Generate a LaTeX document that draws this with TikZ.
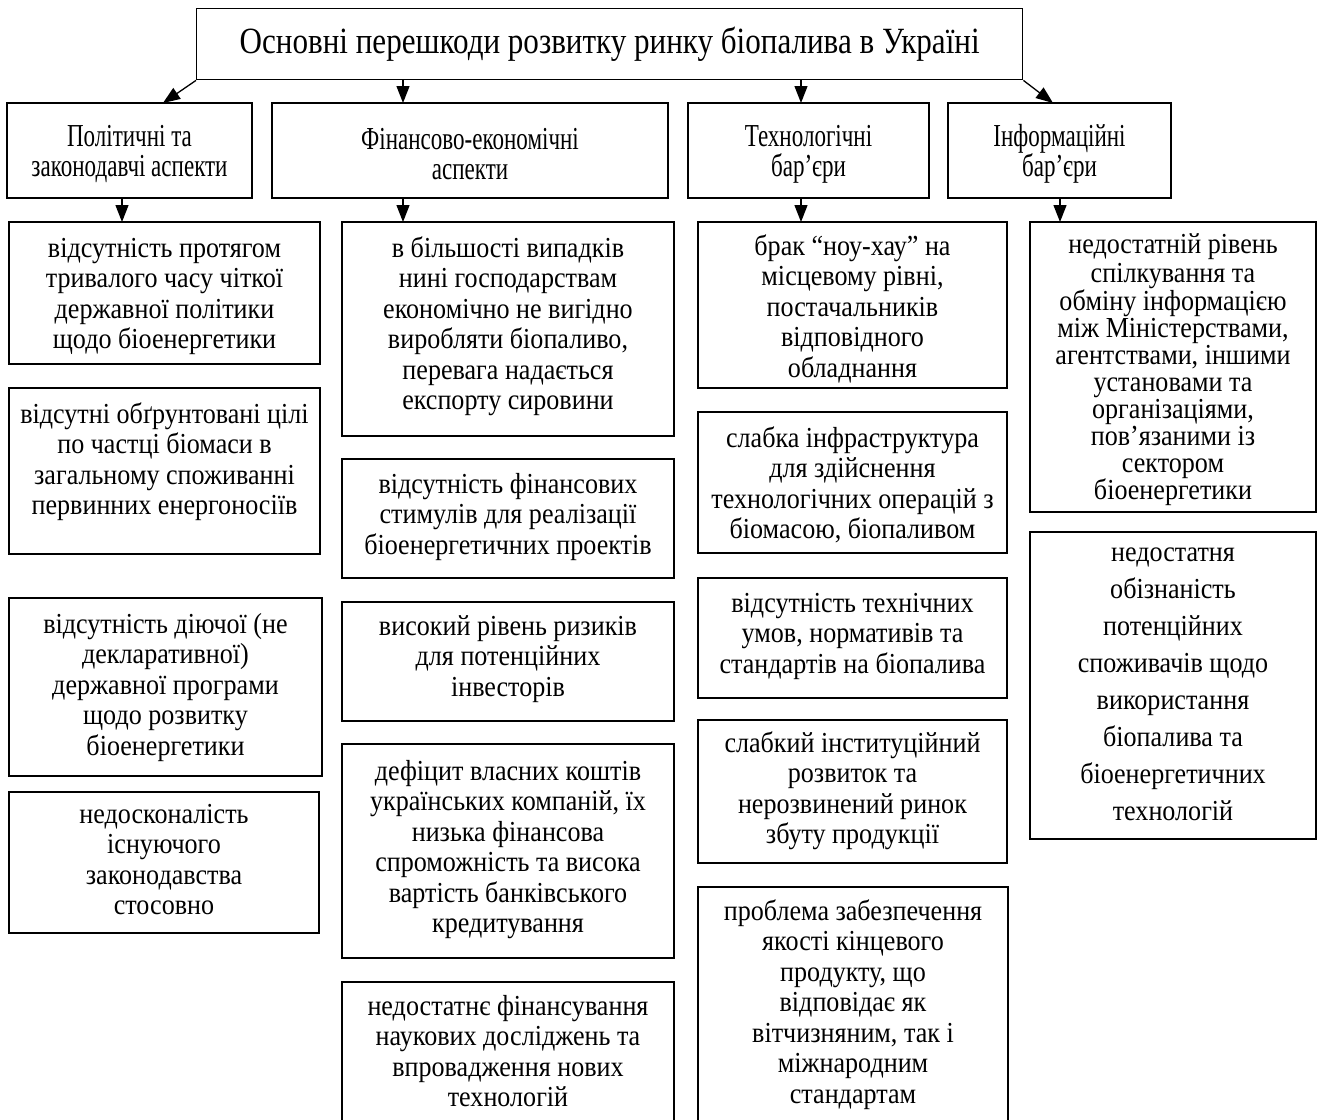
\documentclass[tikz,border=0pt]{standalone}
\usepackage{fontspec}
\setmainfont{Liberation Serif}
\newfontfamily\bodyfamily{Liberation Serif}[FakeStretch=0.9]
\newfontfamily\catfamily{Liberation Serif}[FakeStretch=0.72]
\newfontfamily\titlefamily{Liberation Serif}[FakeStretch=0.84]
\usetikzlibrary{arrows.meta,calc}
\newcommand\bodyfont{\bodyfamily\fontsize{29}{30.5}\selectfont}
\newcommand\tightfont{\bodyfamily\fontsize{29}{27}\selectfont}
\newcommand\loosefont{\bodyfamily\fontsize{29}{37}\selectfont}
\newcommand\bx[8][]{%
  \node[boxst,#1] (#2) at (#3,#4) {\parbox[t][\dimexpr#6pt-#4pt\relax][t]{\dimexpr#5pt-#3pt\relax}{\centering\vspace*{\dimexpr#7pt-\ht\strutbox\relax}\strut#8\par}};}
\newcommand\catup{\rule{0pt}{28pt}}
\begin{document}
\begin{tikzpicture}[x=1pt,y=-1pt,
  boxst/.style={draw,line width=1.4pt,inner sep=0pt,outer sep=0pt,anchor=north west,font=\bodyfont},
  catst/.style={draw,line width=1.4pt,inner sep=0pt,outer sep=0pt,anchor=north west,align=center,font=\catfamily\fontsize{32}{30}\selectfont},
  arr/.style={line width=1.3pt,-{Triangle[width=13pt,length=17pt]}}]
\useasboundingbox (0,0) rectangle (1317,1119);
\clip (0,0) rectangle (1317,1119);
% title
\node[draw,line width=1.4pt,inner sep=0pt,anchor=north west,minimum width=826pt,minimum height=71pt,font=\titlefamily\fontsize{37}{40}\selectfont] (top) at (196,8) {Основні перешкоди розвитку ринку біопалива в Україні};
% categories
\node[catst,minimum width=245pt,minimum height=95pt] (c1) at (7,103) {\catup Політичні та\\законодавчі аспекти};
\node[catst,minimum width=396pt,minimum height=95pt] (c2) at (272,103) {\catup Фінансово-економічні\\аспекти};
\node[catst,minimum width=241pt,minimum height=95pt] (c3) at (688,103) {\catup Технологічні\\бар’єри};
\node[catst,minimum width=223pt,minimum height=95pt] (c4) at (948,103) {\catup Інформаційні\\бар’єри};
% column 1
\bx{A}{9}{222}{320}{364}{35}{відсутність протягом\\тривалого часу чіткої\\державної політики\\щодо біоенергетики}
\bx{B}{9}{388}{320}{554}{35}{відсутні обґрунтовані цілі\\по частці біомаси в\\загальному споживанні\\первинних енергоносіїв}
\bx{C}{9}{598}{322}{776}{35}{відсутність діючої (не\\декларативної)\\державної програми\\щодо розвитку\\біоенергетики}
\bx{D}{9}{792}{319}{933}{31}{недосконалість\\існуючого\\законодавства\\стосовно}
% column 2
\bx{E}{342}{222}{674}{436}{35}{в більшості випадків\\нині господарствам\\економічно не вигідно\\виробляти біопаливо,\\перевага надається\\експорту сировини}
\bx{F}{342}{459}{674}{578}{34}{відсутність фінансових\\стимулів для реалізації\\біоенергетичних проектів}
\bx{G}{342}{602}{674}{721}{33}{високий рівень ризиків\\для потенційних\\інвесторів}
\bx{H}{342}{744}{674}{958}{36}{дефіцит власних коштів\\українських компаній, їх\\низька фінансова\\спроможність та висока\\вартість банківського\\кредитування}
\bx{I}{342}{982}{674}{1140}{33}{недостатнє фінансування\\наукових досліджень та\\впровадження нових\\технологій}
% column 3
\bx{J}{698}{222}{1007}{388}{33}{брак “ноу-хау” на\\місцевому рівні,\\постачальників\\відповідного\\обладнання}
\bx{K}{698}{412}{1007}{553}{35}{слабка інфраструктура\\для здійснення\\технологічних операцій з\\біомасою, біопаливом}
\bx{L}{698}{578}{1007}{698}{34}{відсутність технічних\\умов, нормативів та\\стандартів на біопалива}
\bx{M}{698}{720}{1007}{863}{32}{слабкий інституційний\\розвиток та\\нерозвинений ринок\\збуту продукції}
\bx{N}{698}{887}{1008}{1140}{33}{проблема забезпечення\\якості кінцевого\\продукту, що\\відповідає як\\вітчизняним, так і\\міжнародним\\стандартам}
% column 4
\bx[font=\tightfont]{O}{1030}{222}{1316}{512}{31}{недостатній рівень\\спілкування та\\обміну інформацією\\між Міністерствами,\\агентствами, іншими\\установами та\\організаціями,\\пов’язаними із\\сектором\\біоенергетики}
\bx[font=\loosefont]{P}{1030}{532}{1316}{839}{29}{недостатня\\обізнаність\\потенційних\\споживачів щодо\\використання\\біопалива та\\біоенергетичних\\технологій}
% connectors
\coordinate (u2) at (403,0);
\coordinate (u3) at (801,0);
\coordinate (d1) at (122,0);
\coordinate (d4) at (1060,0);
\draw[arr] (top.south west) -- ([xshift=156pt]c1.north west);
\draw[arr] (top.south -| u2) -- (c2.north -| u2);
\draw[arr] (top.south -| u3) -- (c3.north -| u3);
\draw[arr] (top.south east) -- ([xshift=105pt]c4.north west);
\draw[arr] (c1.south -| d1) -- (A.north -| d1);
\draw[arr] (c2.south -| u2) -- (E.north -| u2);
\draw[arr] (c3.south -| u3) -- (J.north -| u3);
\draw[arr] (c4.south -| d4) -- (O.north -| d4);
\end{tikzpicture}
\end{document}
